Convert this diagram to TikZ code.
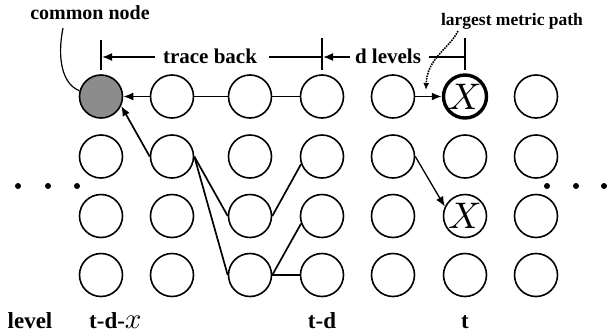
\documentclass[tikz,border=0pt]{standalone}
\usepackage{fontspec}
\setmainfont{Liberation Serif}
\usetikzlibrary{arrows.meta}
\begin{document}
\begin{tikzpicture}[x=1pt,y=-1pt,
  nd/.style={circle,draw,line width=1.6pt,minimum size=43pt,inner sep=0pt},
  sp11/.style={fill=black!45},
  sp61/.style={line width=3.4pt},
  ln/.style={line width=1.7pt},
  arr/.style={line width=1.7pt,-{Latex[length=10pt,width=8pt]}},
  lbl/.style={font=\bfseries\fontsize{21}{21}\selectfont,inner sep=0pt,anchor=base},
  bot/.style={font=\bfseries\fontsize{23}{23}\selectfont,inner sep=0pt,anchor=base},
  xl/.style={inner sep=0pt},
  dot/.style={circle,fill,inner sep=0pt,minimum size=6pt}]
\useasboundingbox (0,0) rectangle (608,335);
% grid of nodes
\foreach \c/\x in {1/101,2/172,3/250,4/322,5/393,6/465,7/536}{
  \foreach \r/\y in {1/96.5,2/156.5,3/216,4/275}{
    \node[nd,sp\c\r/.try] (n\c\r) at (\x,\y) {};
  }
}
\node[xl] (x61) at (n61) {\normalsize\scalebox{3.7}{$X$}};
\node[xl] (x63) at (n63) {\normalsize\scalebox{3.7}{$X$}};
% connectors
\draw[arr] (n21) -- (n11);
\draw[ln] (n31) -- (n21);
\draw[ln] (n41) -- (n31);
\draw[arr] (n22.west) -- (n11.-25);
\draw[ln] (n22.east) -- (n33.west);
\draw[ln] (n22.east) -- (n34.west);
\draw[ln] (n33.east) -- (n42.200);
\draw[ln] (n34.east) -- (n43.200);
\draw[ln] (n34) -- (n44);
\draw[arr] (n51) -- (n61);
\draw[arr,line width=1.3pt] (n52.east) -- (n63.155);
% dimension line
\coordinate (k1) at (101,57);
\coordinate (k2) at (322,57);
\coordinate (k3) at (465,57);
\draw[ln] ([yshift=17pt]k1) -- ([yshift=-13pt]k1);
\draw[ln] ([yshift=19pt]k2) -- ([yshift=-13pt]k2);
\draw[ln] ([yshift=19pt]k3) -- ([yshift=-13pt]k3);
\node[lbl] (tb) at (210,63) {trace back};
\draw[arr] ([xshift=-8pt,yshift=6pt]tb.base west) -- ([xshift=1pt]k1);
\draw[ln] ([xshift=12pt,yshift=6pt]tb.base east) -- (k2);
\node[lbl] (dl) at (388,63) {d levels};
\draw[arr] ([xshift=-5pt,yshift=6pt]dl.base west) -- ([xshift=1pt]k2);
\draw[ln] ([xshift=8pt,yshift=6pt]dl.base east) -- (k3);
% common node label
\node[font=\bfseries\fontsize{20}{20}\selectfont,inner sep=0pt,anchor=base] (cn) at (90,19) {common node};
\coordinate (cs) at (63,28);
\draw[line width=1.2pt] (cs) .. controls (57,58) and (62,84) .. (n11.165);
% largest metric path
\node[font=\bfseries\fontsize{17.5}{17.5}\selectfont,inner sep=0pt,anchor=base] (lm) at (512,25) {largest metric path};
\coordinate (ds) at (458,31);
\coordinate (de) at (426,90);
\draw[line width=1.6pt,densely dotted,-{Latex[length=7pt,width=6pt]}] (ds) .. controls (450,48) and (427,58) .. (de);
% dots
\node[dot] (dl1) at (18,186) {};
\node[dot] (dl2) at (48,186) {};
\node[dot] (dl3) at (77,186) {};
\node[dot] (dr1) at (547,186) {};
\node[dot] (dr2) at (576,186) {};
\node[dot] (dr3) at (604,186) {};
% bottom labels
\node[bot] (lv) at (30,328) {level};
\node[bot,anchor=base west] (ltdx) at (89,328) {t-d-{\normalsize\scalebox{2.9}{$x$}}};
\node[bot] (ltd) at (322,328) {t-d};
\node[bot] (lt) at (465,328) {t};
\end{tikzpicture}
\end{document}
